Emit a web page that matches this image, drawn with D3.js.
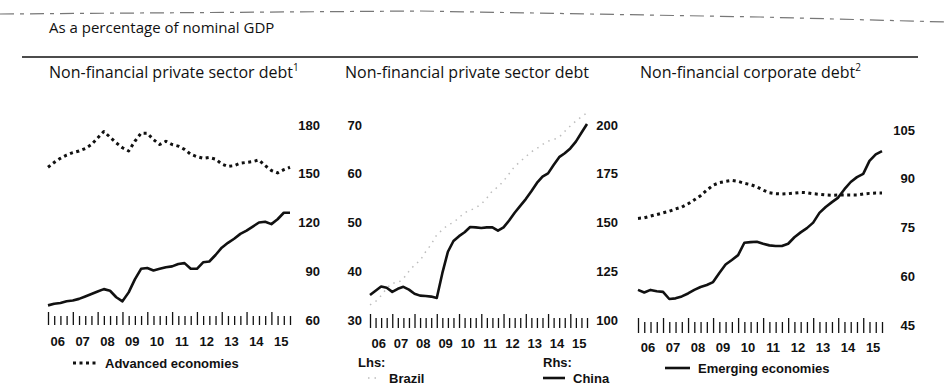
<!DOCTYPE html>
<html>
<head>
<meta charset="utf-8">
<script src="https://cdn.jsdelivr.net/npm/d3@7"></script>
<style>
  body { margin: 0; background: #fff; }
  svg { display: block; }
  .num { font-family: "Liberation Sans", Arial, sans-serif; font-weight: bold; font-size: 13px; fill: #111; }
  .ttl { font-family: "Open Sans", "Noto Sans", sans-serif; font-size: 16px; fill: #111; }
</style>
</head>
<body>
<svg id="chart" width="947" height="385"></svg>
<script>
// quarters 2006Q1 .. 2015Q4
let quarters = d3.range(40).map(i => 2006 + i / 4);
let yearLabels = ["06", "07", "08", "09", "10", "11", "12", "13", "14", "15"];

// panel 1 - non-financial private sector debt
let advPrivate = [154, 157, 159.5, 161.5, 163, 164, 165.5, 168, 172, 176,
  172.5, 169, 166, 164, 170, 175, 175, 171, 168, 170,
  168, 167, 165, 162, 160.5, 159.5, 160, 159, 156, 154.5,
  155, 156.5, 157, 157.5, 158.5, 155, 152, 150.5, 152.5, 154];
let emePrivate = [69, 70, 70.5, 71.5, 72, 73, 74.5, 76, 77.5, 79,
  78, 74, 71.5, 77, 85, 91.5, 92, 90.5, 91.5, 92.5,
  93, 94.5, 95, 91.5, 91.5, 95.5, 96, 100, 104.5, 107.5,
  110, 113, 115, 117.5, 120, 120.5, 119, 122, 126, 126];
let ticks1 = [60, 90, 120, 150, 180];

// panel 2 - Brazil (lhs) and China (rhs)
let brazil = [33.1, 33.8, 35, 36.5, 37.6, 37.6, 38.5, 40, 41.3, 42.2,
  44, 45.5, 47.5, 48.5, 49.5, 50, 51, 52, 52.5, 53,
  53.8, 55, 56.5, 57.3, 58.5, 60, 61.5, 62.5, 63.5, 64.5,
  65.2, 66, 66.7, 67, 67.5, 68.7, 69.8, 70.8, 71.7, 72.5];
let china = [112.8, 115, 117.2, 116.5, 114.4, 116, 117, 115.6, 113.5, 112.5,
  112.3, 112, 111.3, 124, 135, 140.5, 143, 145, 147.7, 147.5,
  147.2, 147.5, 147.5, 145.8, 147.5, 151, 155, 158.5, 162, 166,
  170.3, 173.5, 175.2, 179.5, 183.5, 185.5, 188, 191.5, 196, 200.5];
let ticks2L = [30, 40, 50, 60, 70];
let ticks2R = [100, 125, 150, 175, 200];

// panel 3 - non-financial corporate debt
let advCorporate = [77.8, 78, 78.5, 79, 79.5, 80, 80.7, 81.3, 82.3, 83.5,
  84.8, 86.5, 88, 88.8, 89.2, 89.5, 89.2, 88.6, 88.2, 87.5,
  86.5, 85.7, 85.4, 85.3, 85.4, 85.6, 85.8, 85.7, 85.4, 85.2,
  85, 84.9, 85, 85, 85, 85, 85.3, 85.5, 85.6, 85.6];
let emeCorporate = [55.8, 55, 55.8, 55.4, 55.2, 53, 53.2, 53.8, 54.7, 55.8,
  56.7, 57.3, 58.2, 61, 63.6, 65, 66.5, 70.3, 70.5, 70.6,
  70, 69.5, 69.3, 69.3, 70, 72, 73.5, 74.8, 76.5, 79.5,
  81.3, 82.8, 84.2, 86.8, 89, 90.5, 91.5, 95.5, 97.5, 98.5];
let ticks3 = [45, 60, 75, 90, 105];

let svg = d3.select("#chart");

// scan edge at the very top
svg.append("path")
  .attr("d", "M0,14 L420,11 L760,17 L947,22")
  .attr("fill", "none")
  .attr("stroke", "#777")
  .attr("stroke-width", 1.2)
  .attr("stroke-dasharray", "14,6,4,6");

svg.append("text").attr("class", "ttl").attr("x", 49).attr("y", 33)
  .style("font-size", "15px")
  .text("As a percentage of nominal GDP");

svg.append("line")
  .attr("x1", 22).attr("x2", 918).attr("y1", 57).attr("y2", 57)
  .attr("stroke", "#111").attr("stroke-width", 1.5);

function xAxis(x, tickTop, tickBottom, labelY) {
  let g = svg.append("g").attr("transform", "translate(0," + tickBottom + ")");
  g.call(d3.axisBottom(x).tickValues(quarters).tickSize(0).tickFormat(""));
  g.select(".domain").remove();
  g.selectAll(".tick line")
    .attr("y1", 0)
    .attr("y2", (d, i) => i % 4 == 0 ? -(tickBottom - tickTop) : -(tickBottom - tickTop - 4))
    .attr("stroke", "#111")
    .attr("stroke-width", 1.3);

  let lab = svg.append("g").attr("transform", "translate(0," + labelY + ")");
  lab.call(d3.axisBottom(x)
    .tickValues(yearLabels.map((t, i) => 2006 + i + 0.375))
    .tickSize(0).tickPadding(0)
    .tickFormat((d, i) => yearLabels[i]));
  lab.select(".domain").remove();
  lab.selectAll("text").attr("class", "num").attr("dy", "0.35em");
}

function yLabels(y, values, xPos) {
  let g = svg.append("g").attr("transform", "translate(" + xPos + ",0)");
  g.call(d3.axisRight(y).tickValues(values).tickSize(0).tickPadding(0));
  g.select(".domain").remove();
  g.selectAll("text").attr("class", "num").attr("text-anchor", "end").attr("x", 0);
}

function drawLine(x, y, data, style) {
  let line = d3.line()
    .x((d, i) => x(quarters[i]))
    .y(d => y(d));
  svg.append("path")
    .datum(data)
    .attr("fill", "none")
    .attr("stroke", style.color || "#111")
    .attr("stroke-width", style.width)
    .attr("stroke-dasharray", style.dash || null)
    .attr("stroke-linejoin", "round")
    .attr("d", line);
}

let solid = { width: 2.6 };
let dotted = { width: 3, dash: "3,3.5" };
let brazilStyle = { width: 1.5, dash: "1.5,5", color: "#bdbdbd" };

// Panel 1
let x1 = d3.scaleLinear().domain([2006, 2015.75]).range([48, 290]);
let y1 = d3.scaleLinear().domain([60, 180]).range([320, 125]);
svg.append("text").attr("class", "ttl").attr("x", 49).attr("y", 78)
  .html("Non-financial private sector debt<tspan dy='-7' font-size='10'>1</tspan>");
xAxis(x1, 312, 325, 341);
yLabels(y1, ticks1, 320);
drawLine(x1, y1, advPrivate, dotted);
drawLine(x1, y1, emePrivate, solid);

// Panel 2
let x2 = d3.scaleLinear().domain([2006, 2015.75]).range([370, 587]);
let y2L = d3.scaleLinear().domain([30, 70]).range([320, 125]);
let y2R = d3.scaleLinear().domain([100, 200]).range([320, 125]);
svg.append("text").attr("class", "ttl").attr("x", 345).attr("y", 78)
  .text("Non-financial private sector debt");
xAxis(x2, 314, 328, 343);
yLabels(y2L, ticks2L, 362);
yLabels(y2R, ticks2R, 618);
drawLine(x2, y2L, brazil, brazilStyle);
drawLine(x2, y2R, china, solid);

// Panel 3
let x3 = d3.scaleLinear().domain([2006, 2015.75]).range([638, 882]);
let y3 = d3.scaleLinear().domain([45, 105]).range([325, 130]);
svg.append("text").attr("class", "ttl").attr("x", 640).attr("y", 78)
  .html("Non-financial corporate debt<tspan dy='-7' font-size='10'>2</tspan>");
xAxis(x3, 318, 333, 347);
yLabels(y3, ticks3, 915);
drawLine(x3, y3, advCorporate, dotted);
drawLine(x3, y3, emeCorporate, solid);

// Legends
function legendItem(x, y, label, style, len) {
  svg.append("line")
    .attr("x1", x).attr("x2", x + len).attr("y1", y).attr("y2", y)
    .attr("stroke", style.color || "#111")
    .attr("stroke-width", style.width)
    .attr("stroke-dasharray", style.dash || null);
  svg.append("text").attr("class", "num").attr("x", x + len + 8).attr("y", y + 4.5)
    .text(label);
}
legendItem(73, 363, "Advanced economies", dotted, 24);
svg.append("text").attr("class", "num").attr("x", 358).attr("y", 367).text("Lhs:");
svg.append("text").attr("class", "num").attr("x", 543).attr("y", 367).text("Rhs:");
legendItem(368, 378, "Brazil", brazilStyle, 13);
legendItem(543, 378, "China", solid, 22);
legendItem(665, 368, "Emerging economies", solid, 25);
</script>
</body>
</html>
